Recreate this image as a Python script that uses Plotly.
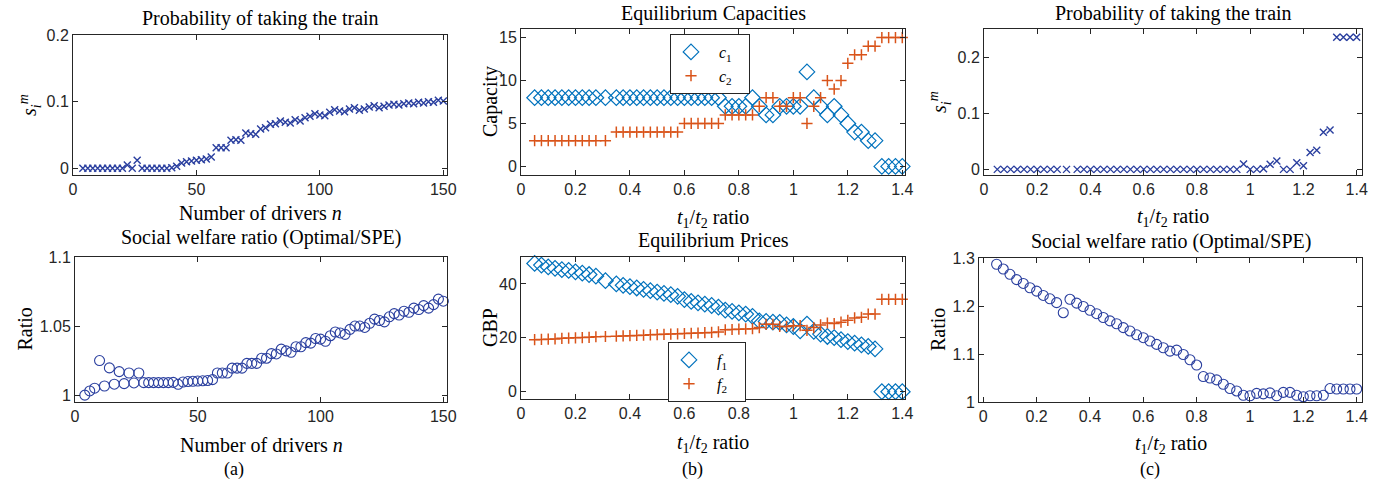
import plotly.graph_objects as go

# ---------------- data ----------------
drivers_n = list(range(4, 151, 2))

prob_train_n = [0, 0, 0, 0, 0, 0, 0, 0, 0, 0.005, 0, 0.012,
                0, 0, 0, 0, 0, 0, 0.001, 0.003, 0.008, 0.010, 0.011, 0.012,
                0.013, 0.014, 0.017, 0.031, 0.031, 0.031, 0.042, 0.043, 0.042,
                0.053, 0.052, 0.051, 0.059, 0.061, 0.066, 0.067, 0.071, 0.069,
                0.068, 0.073, 0.071, 0.076, 0.078, 0.082, 0.080, 0.079, 0.084,
                0.088, 0.086, 0.085, 0.089, 0.091, 0.087, 0.089, 0.092, 0.094,
                0.091, 0.093, 0.095, 0.096, 0.095, 0.097, 0.098, 0.097, 0.099,
                0.098, 0.100, 0.099, 0.102, 0.101]

welfare_n = [1.000, 1.003, 1.005, 1.025, 1.0066, 1.0197, 1.0079, 1.017, 1.0083,
             1.016, 1.0088, 1.016,
             1.009, 1.009, 1.009, 1.009, 1.009, 1.009, 1.0092, 1.0078, 1.0095,
             1.0098, 1.0100, 1.0102, 1.0104, 1.0106, 1.0112,
             1.016, 1.016, 1.016, 1.0195, 1.0195, 1.0195, 1.023, 1.023, 1.023,
             1.0267, 1.0267, 1.030, 1.0298, 1.0333, 1.032, 1.031, 1.035, 1.035,
             1.038, 1.0376, 1.041, 1.0405, 1.039, 1.043, 1.0457, 1.045, 1.044,
             1.0476, 1.050, 1.050, 1.049, 1.052, 1.055, 1.054, 1.053, 1.0567,
             1.059, 1.058, 1.0607, 1.060, 1.063, 1.062, 1.0648, 1.063, 1.0655,
             1.0695, 1.068]

ratio_b = [0.05, 0.075, 0.1, 0.125, 0.15, 0.175, 0.2, 0.225, 0.25, 0.275, 0.31,
           0.35, 0.375, 0.4, 0.425, 0.45, 0.475, 0.5, 0.525, 0.55, 0.575,
           0.6, 0.625, 0.65, 0.675, 0.7, 0.725, 0.75, 0.775, 0.8, 0.825, 0.85,
           0.875, 0.9, 0.925, 0.95, 0.975, 1.0, 1.025, 1.05, 1.075, 1.1, 1.125,
           1.15, 1.175, 1.2, 1.225, 1.25, 1.275, 1.3, 1.325, 1.35, 1.375, 1.4]

cap_c1 = [8] * 27 + [7, 7, 7, 7, 8, 7, 6, 6, 7, 7, 7, 7, 11, 8, 7, 6, 7, 6, 5,
                     4, 4, 3, 3, 0, 0, 0, 0]
cap_c2 = [3] * 11 + [4] * 10 + [5] * 6 + [6] * 5 + [7, 8, 8, 7, 7, 8, 8, 5, 7, 8,
                                                    10, 9, 10, 12, 13, 13, 14, 14,
                                                    15, 15, 15, 15]

price_f1 = [47.6, 47.0, 46.3, 45.8, 45.3, 45.0, 44.5, 44.0, 43.5, 42.9, 41.2,
            40.0, 39.5, 39.0, 38.5, 38.0, 37.5, 37.0, 36.5, 36.0, 35.4,
            34.2, 33.5, 33.0, 32.5, 32.0, 31.4, 30.3, 29.8, 29.3, 28.8, 28.0,
            26.3, 26.1, 25.8, 25.7, 24.8, 24.2, 22.6, 25.1, 22.4, 21.4, 20.5,
            20.1, 19.3, 18.6, 18.0, 17.4, 16.8, 15.9, 0, 0, 0, 0]
price_f2 = [19.3, 19.4, 19.5, 19.6, 19.8, 19.9, 20.0, 20.1, 20.2, 20.4, 20.5,
            20.6, 20.7, 20.8, 20.9, 21.0, 21.1, 21.2, 21.3, 21.4, 21.5,
            21.6, 21.7, 21.8, 21.9, 22.0, 22.2, 23.0, 23.1, 23.2, 23.3, 23.4,
            23.8, 25.0, 25.0, 24.2, 24.2, 24.5, 24.5, 22.8, 23.8, 24.8, 25.5,
            25.3, 25.8, 26.5, 27.4, 27.6, 28.8, 28.8, 34.3, 34.3, 34.3, 34.3]

prob_train_r = [0] * 36 + [0.0095, 0, 0, 0.001, 0.009, 0.015, 0, 0, 0.012, 0.0065,
                           0.03, 0.034, 0.066, 0.07, 0.2355, 0.2355, 0.2355, 0.2355]

ratio_c = [round(0.05 + 0.025 * k, 3) for k in range(55)]
welfare_r = [1.287, 1.277, 1.266, 1.255, 1.247, 1.238, 1.231, 1.222, 1.215, 1.207,
             1.186, 1.214,
             1.206, 1.199, 1.191, 1.184, 1.176, 1.169, 1.163, 1.155, 1.148, 1.140,
             1.134, 1.127, 1.120, 1.113, 1.106, 1.108,
             1.099, 1.088, 1.077, 1.053, 1.050, 1.046, 1.037, 1.028, 1.023, 1.014,
             1.013, 1.018, 1.017, 1.019, 1.013, 1.020, 1.020, 1.014, 1.011, 1.013,
             1.013, 1.014, 1.028, 1.027, 1.027, 1.027, 1.027]

# ---------------- styling ----------------
W, H = 1395, 489
OFF = 0  # body margin removed via post_script
NAVY = "#2a3f9f"
BLUE = "#0072BD"
ORANGE = "#D95319"
AX = "#262626"
SERIF = "Liberation Serif"
SANS = "Liberation Sans"
FS = 20


def px2x(x):
    return (x - OFF) / W


def px2y(y):
    return 1 - (y - OFF) / H


def xd(a, b):
    return [px2x(a), px2x(b)]


def yd(top, bot):
    return [px2y(bot), px2y(top)]


panels = {
    "1": (xd(73, 447), yd(35, 175), [0, 151.5], [-0.01, 0.2],
          [0, 50, 100, 150], [0, 0.1, 0.2], ["0", "0.1", "0.2"]),
    "2": (xd(521, 905), yd(29, 175), [0, 1.41], [-1, 16],
          None, [0, 5, 10, 15], ["0", "5", "10", "15"]),
    "3": (xd(984, 1362), yd(29, 175), [0, 1.42], [-0.01, 0.25],
          None, [0, 0.1, 0.2], ["0", "0.1", "0.2"]),
    "4": (xd(75, 447), yd(257, 402), [0, 151.5], [0.995, 1.1],
          [0, 50, 100, 150], [1, 1.05, 1.1], ["1", "1.05", "1.1"]),
    "5": (xd(521, 905), yd(257, 399), [0, 1.41], [-2.7, 50],
          None, [0, 20, 40], ["0", "20", "40"]),
    "6": (xd(979, 1362), yd(258, 402), [-0.016, 1.42], [1, 1.3],
          None, [1, 1.1, 1.2, 1.3], ["1", "1.1", "1.2", "1.3"]),
}

ratio_ticks = [0, 0.2, 0.4, 0.6, 0.8, 1, 1.2, 1.4]
ratio_ticktext = ["0", "0.2", "0.4", "0.6", "0.8", "1", "1.2", "1.4"]

fig = go.Figure()

layout = dict(width=W, height=H,
              margin=dict(l=0, r=0, t=0, b=0, pad=0, autoexpand=False),
              paper_bgcolor="white", plot_bgcolor="white", showlegend=True)

for k, (xdom, ydom, xr, yr, xt, yt, ytt) in panels.items():
    sfx = "" if k == "1" else k
    ax_common = dict(showline=True, linecolor=AX, linewidth=1, mirror="ticks",
                     ticks="inside", ticklen=5, tickcolor=AX, showgrid=False,
                     zeroline=False, automargin=False,
                     tickfont=dict(family=SANS, size=16, color=AX))
    if xt is None:
        xtv, xtt = ratio_ticks, ratio_ticktext
    else:
        xtv, xtt = xt, [str(v) for v in xt]
    layout["xaxis" + sfx] = dict(domain=xdom, range=xr, anchor="y" + sfx,
                                 tickmode="array", tickvals=xtv, ticktext=xtt,
                                 **ax_common)
    layout["yaxis" + sfx] = dict(domain=ydom, range=yr, anchor="x" + sfx,
                                 tickmode="array", tickvals=yt, ticktext=ytt,
                                 **ax_common)

fig.update_layout(**layout)

xs_mark = dict(symbol="x-thin", size=7, line=dict(width=1.4, color=NAVY), color=NAVY)
circ_mark = dict(symbol="circle-open", size=10, line=dict(width=1.1, color=NAVY), color=NAVY)
dia_mark = dict(symbol="diamond-open", size=12, line=dict(width=1.2, color=BLUE), color=BLUE)
plus_mark = dict(symbol="cross-thin", size=8, line=dict(width=1.5, color=ORANGE), color=ORANGE)

SP = "&nbsp;"
fig.add_trace(go.Scatter(x=drivers_n, y=prob_train_n, mode="markers", marker=xs_mark,
                         xaxis="x", yaxis="y", showlegend=False, cliponaxis=False))
fig.add_trace(go.Scatter(x=ratio_b, y=cap_c1, mode="markers", marker=dia_mark,
                         xaxis="x2", yaxis="y2",
                         name=SP * 2 + "<i>c</i><sub>1</sub>" + SP * 3,
                         legend="legend", cliponaxis=False))
fig.add_trace(go.Scatter(x=ratio_b, y=cap_c2, mode="markers", marker=plus_mark,
                         xaxis="x2", yaxis="y2",
                         name=SP * 2 + "<i>c</i><sub>2</sub>" + SP * 3,
                         legend="legend", cliponaxis=False))
fig.add_trace(go.Scatter(x=ratio_b, y=prob_train_r, mode="markers", marker=xs_mark,
                         xaxis="x3", yaxis="y3", showlegend=False, cliponaxis=False))
fig.add_trace(go.Scatter(x=drivers_n, y=welfare_n, mode="markers", marker=circ_mark,
                         xaxis="x4", yaxis="y4", showlegend=False, cliponaxis=False))
fig.add_trace(go.Scatter(x=ratio_b, y=price_f1, mode="markers", marker=dia_mark,
                         xaxis="x5", yaxis="y5",
                         name=SP * 2 + "<i>f</i><sub>1</sub>" + SP * 3,
                         legend="legend2", cliponaxis=False))
fig.add_trace(go.Scatter(x=ratio_b, y=price_f2, mode="markers", marker=plus_mark,
                         xaxis="x5", yaxis="y5",
                         name=SP * 2 + "<i>f</i><sub>2</sub>" + SP * 3,
                         legend="legend2", cliponaxis=False))
fig.add_trace(go.Scatter(x=ratio_c, y=welfare_r, mode="markers", marker=circ_mark,
                         xaxis="x6", yaxis="y6", showlegend=False, cliponaxis=False))

leg_common = dict(bgcolor="white", bordercolor="#262626", borderwidth=1,
                  font=dict(family=SERIF, size=16, color="black"),
                  xanchor="left", yanchor="top", tracegroupgap=0,
                  itemwidth=30)
fig.update_layout(
    legend=dict(x=px2x(670), y=px2y(34), **leg_common),
    legend2=dict(x=px2x(668), y=px2y(342), **leg_common),
)

ann = []
titles = {"1": "Probability of taking the train", "2": "Equilibrium Capacities",
          "3": "Probability of taking the train", "4": "Social welfare ratio (Optimal/SPE)",
          "5": "Equilibrium Prices", "6": "Social welfare ratio (Optimal/SPE)"}
title_shift = {"1": 3, "2": 2, "3": 2, "4": 6, "5": 3, "6": 3}
xlabels = {"1": "Number of drivers <i>n</i>", "4": "Number of drivers <i>n</i>"}
xlab_shift = {"1": -38, "2": -43, "3": -42, "4": -43, "5": -44, "6": -42}
tr = "<i>t</i><sub>1</sub>/<i>t</i><sub>2</sub> ratio"
ylabels = {"1": "<i>s</i><sub><i>i</i></sub><sup><i>m</i></sup>", "2": "Capacity",
           "3": "<i>s</i><sub><i>i</i></sub><sup><i>m</i></sup>", "4": "Ratio",
           "5": "GBP", "6": "Ratio"}
ylab_x = {"1": 30, "2": 490, "3": 940, "4": 24, "5": 490, "6": 938}

for k in panels:
    sfx = "" if k == "1" else k
    ann.append(dict(text=titles[k], xref="x%s domain" % sfx, yref="y%s domain" % sfx,
                    x=0.5, y=1, xanchor="center", yanchor="bottom",
                    yshift=title_shift[k], showarrow=False,
                    font=dict(family=SERIF, size=FS, color="black")))
    ann.append(dict(text=xlabels.get(k, tr), xref="x%s domain" % sfx,
                    yref="y%s domain" % sfx, x=0.5, y=0, xanchor="center",
                    yanchor="middle", yshift=xlab_shift[k], showarrow=False,
                    font=dict(family=SERIF, size=FS, color="black")))
    ydom = panels[k][1]
    ann.append(dict(text=ylabels[k], xref="paper", yref="paper", x=px2x(ylab_x[k]),
                    y=(ydom[0] + ydom[1]) / 2, xanchor="center", yanchor="middle",
                    textangle=-90, showarrow=False,
                    font=dict(family=SERIF, size=FS, color="black")))

for lbl, px in (("(a)", 234), ("(b)", 692), ("(c)", 1150)):
    ann.append(dict(text=lbl, xref="paper", yref="paper", x=px2x(px), y=px2y(469),
                    xanchor="center", yanchor="middle", showarrow=False,
                    font=dict(family=SERIF, size=18, color="black")))

fig.update_layout(annotations=ann)
fig.write_html("out.html",
               config={"displayModeBar": False},
               post_script="document.body.style.margin='0px';")
